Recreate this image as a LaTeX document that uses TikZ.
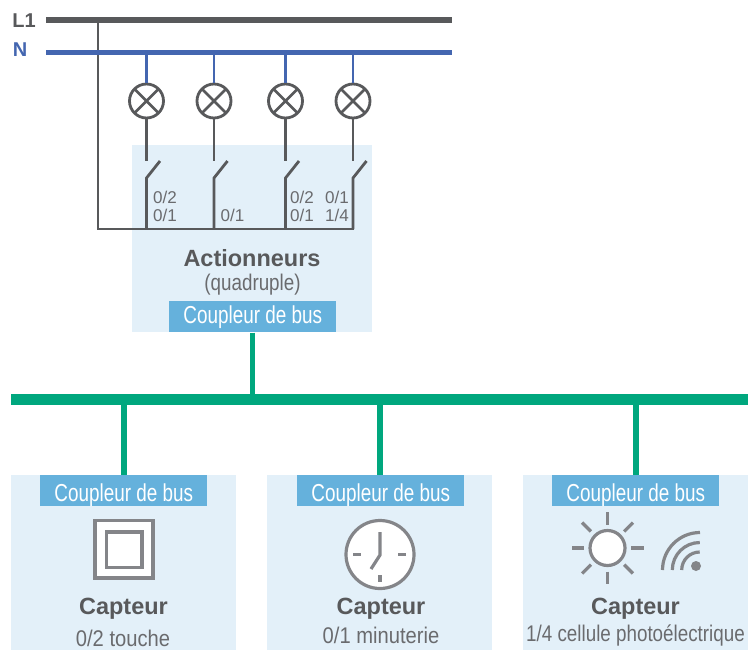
\documentclass[tikz,border=0pt]{standalone}
\usepackage{fontspec}
\usepackage{xcolor}
\setmainfont{Liberation Sans}
\newfontfamily\lightfont[FakeStretch=0.83]{Liberation Sans}
\newfontfamily\narrowfont[FakeStretch=0.77]{Liberation Sans}
\newfontfamily\widerfont[FakeStretch=0.89]{Liberation Sans}
\definecolor{wiregray}{HTML}{58595B}
\definecolor{textgray}{HTML}{6A6B6E}
\definecolor{wireblue}{HTML}{4466B0}
\definecolor{busgreen}{HTML}{00A77E}
\definecolor{boxblue}{HTML}{E3F0F9}
\definecolor{couplerblue}{HTML}{65B1DC}
\definecolor{icongray}{HTML}{848589}
\usetikzlibrary{positioning, calc}

\begin{document}
\begin{tikzpicture}[
  x=0.75pt, y=-0.75pt,
  phase/.style={line width=4pt, wiregray},
  neutral/.style={line width=3.8pt, wireblue},
  wire/.style={line width=2.1pt, wiregray},
  bluewire/.style={line width=1.7pt, wireblue},
  bus/.style={line width=3.9pt, busgreen},
  icon/.style={line width=2.4pt, icongray},
  lamp/.style={circle, draw=wiregray, line width=2.1pt, fill=white, minimum size=25.5pt, inner sep=0pt,
    path picture={\draw[wire] (path picture bounding box.north west) -- (path picture bounding box.south east)
      (path picture bounding box.north east) -- (path picture bounding box.south west);}},
  panel/.style={fill=boxblue, inner sep=0pt, anchor=north west},
  coupler/.style={fill=couplerblue, text=white, font=\narrowfont\fontsize{18.4}{18.4}\selectfont, minimum width=125.25pt,
    text height=20pt, text depth=3.25pt, inner sep=0pt, anchor=north west},
  title/.style={text=wiregray, font=\fontsize{17.6}{17.6}\selectfont\bfseries, inner sep=0pt},
  subtitle/.style={text=textgray, font=\lightfont\fontsize{17}{17}\selectfont, inner sep=0pt},
  subwide/.style={text=textgray, font=\widerfont\fontsize{17}{17}\selectfont, inner sep=0pt},
  contact/.style={text=textgray, font=\fontsize{12.8}{12.8}\selectfont, inner sep=0pt}
]
\useasboundingbox (0,0) rectangle (752,650);

% Panels
\node[panel, minimum width=180pt, minimum height=140.25pt] (act) at (132,145) {};
\node[panel, minimum width=168.75pt, minimum height=131.25pt] (boxa) at (11,475) {};
\node[panel, minimum width=168.75pt, minimum height=131.25pt] (boxb) at (267,475) {};
\node[panel, minimum width=168.75pt, minimum height=131.25pt] (boxc) at (523,475) {};

% Supply lines
\coordinate (l1a) at (46,20);
\coordinate (l1b) at (452,20);
\coordinate (na) at (46,52.5);
\coordinate (nb) at (452,52.5);
\coordinate (tap) at (98,20);
\coordinate (ret) at (98,229);
\draw[wire] (tap) -- (ret) -- (354,229);
\draw[phase] (l1a) -- (l1b);
\draw[neutral] (na) -- (nb);
\node[text=wiregray, font=\fontsize{15}{15}\selectfont\bfseries, inner sep=0pt] (l1) at (24,20.5) {L1};
\node[text=wireblue, font=\fontsize{15}{15}\selectfont\bfseries, inner sep=0pt] (n) at (20,50) {N};

% Lamps and switches
\foreach \name/\xc in {a/146.5, b/214, c/285.5, d/353} {
  \node[lamp] (lamp\name) at (\xc,101) {};
  \coordinate (top\name) at (\xc,52.5);
  \coordinate (up\name) at (\xc,161);
  \coordinate (low\name) at (\xc,178);
  \coordinate (arm\name) at ($(low\name)+(13.5,-17)$);
  \coordinate (foot\name) at (\xc,229);
  \draw[bluewire] (top\name) -- (lamp\name);
  \draw[wire] (lamp\name) -- (up\name);
  \draw[wire] (arm\name) -- (low\name) -- (foot\name);
}

\node[contact] (ca) at (165,197) {0/2};
\node[contact] (cb) at (165,215) {0/1};
\node[contact] (cc) at (232.5,215) {0/1};
\node[contact] (cd) at (302,197) {0/2};
\node[contact] (ce) at (302,215) {0/1};
\node[contact] (cf) at (337,197) {0/1};
\node[contact] (cg) at (337,215) {1/4};

\node[title] (acttitle) at (252,258) {Actionneurs};
\node[subtitle] (actsub) at (252.5,285) {(quadruple)};
\node[coupler, text height=16.7pt, text depth=6.55pt] (cact) at (169,301) {Coupleur de bus};

% Bus
\coordinate (busa) at (11,399.5);
\coordinate (busb) at (748,399.5);
\coordinate (busc) at (252.5,399.5);
\draw[bus] (cact.south -| busc) -- (busc);
\draw[line width=7.8pt, busgreen] (busa) -- (busb);
\node[coupler] (ca1) at (40,475) {Coupleur de bus};
\node[coupler] (ca2) at (297,475) {Coupleur de bus};
\node[coupler] (ca3) at (552,475) {Coupleur de bus};
\foreach \xc/\cpl in {124/ca1, 380/ca2, 636/ca3} {
  \coordinate (drop) at (\xc,399.5);
  \draw[bus] (drop) -- (drop |- \cpl.north);
}

% Push button
\draw[icon, fill=white] (95,520.5) rectangle (153,578);
\draw[icon] (106.5,532) rectangle (142,567.5);

% Clock
\draw[icon, fill=white] (380,554.5) circle (34);
\draw[icon] (380,575) -- (380,582)
  (353,554.5) -- (360.5,554.5) (398,554.5) -- (406,554.5);
\draw[icon] (380,532) -- (380,555) -- (371,569);

% Sun
\draw[icon, fill=white] (607.5,548) circle (17.5);
\foreach \ang in {0,45,...,315} {
  \draw[icon] ($(607.5,548)+(\ang:23.5)$) -- ($(607.5,548)+(\ang:36)$);
}

% Wireless
\fill[icongray] (696,566) circle (5);
\draw[icon] (681.7,570) arc (180:270:18);
\draw[icon] (672.3,570) arc (180:270:27.5);
\draw[icon] (662.5,570) arc (180:270:37.5);

\node[title] (ta) at (123.5,609) {Capteur};
\node[subwide] (sa) at (123,638) {0/2 touche};
\node[title] (tb) at (381,609) {Capteur};
\node[subwide] (sb) at (381,635) {0/1 minuterie};
\node[title] (tc) at (635.5,609) {Capteur};
\node[subtitle] (sc) at (635.5,635) {1/4 cellule photoélectrique};
\end{tikzpicture}
\end{document}
